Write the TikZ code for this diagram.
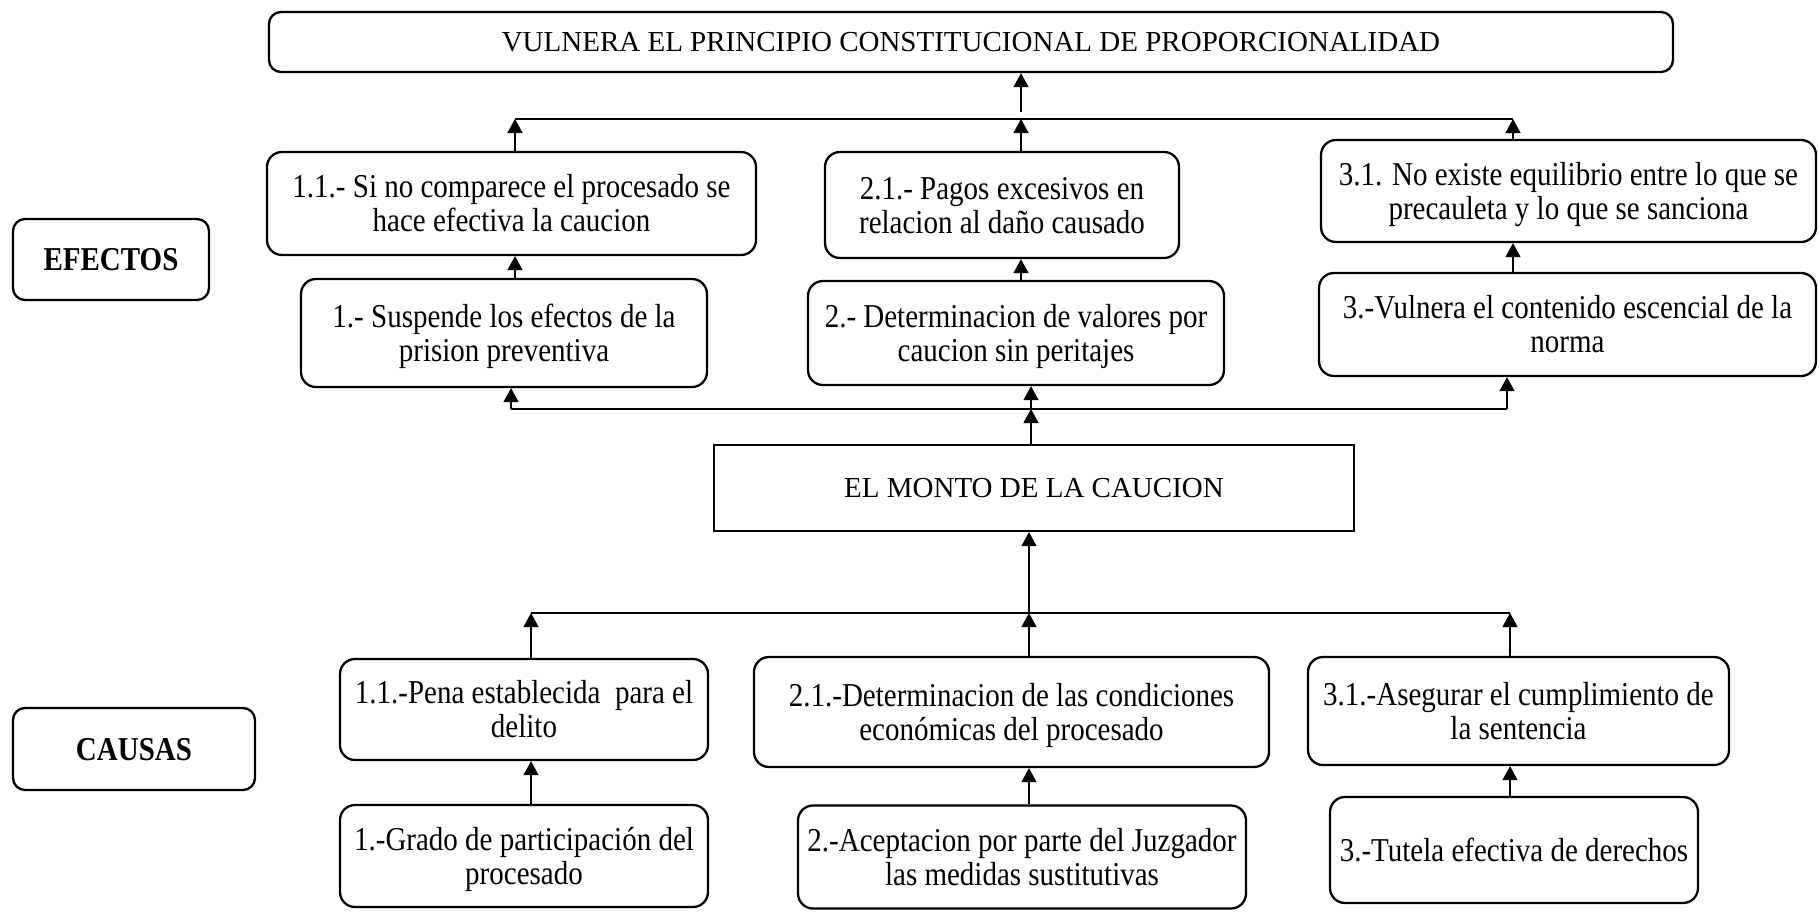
\documentclass[tikz,border=0pt]{standalone}
\usepackage{fontspec}
\usepackage{graphicx}
\setmainfont{Liberation Serif}
\usetikzlibrary{arrows.meta}
\newcommand\vs[1]{\raisebox{-4.5pt}[\height][\depth]{\scalebox{1}[1.15]{\begin{tabular}{@{}c@{}}#1\end{tabular}}}}
\begin{document}
\begin{tikzpicture}[x=1pt,y=-1pt,
  box/.style={draw, line width=2.3pt, rounded corners=15pt, align=center, inner sep=0pt,
    font=\fontsize{29}{29.5}\selectfont},
  sqbox/.style={draw, line width=2.3pt, align=center, inner sep=0pt,
    font=\fontsize{29}{33}\selectfont},
  arr/.style={-{Triangle[length=14pt,width=15pt]}, line width=1.2pt},
  bus/.style={line width=1.4pt}]
\useasboundingbox[fill=white] (0,0) rectangle (1819,911);
% effects
\node[box, rounded corners=12pt, minimum width=1404pt, minimum height=60pt, font=\fontsize{29}{33}\selectfont] (top) at (971,42) {VULNERA EL PRINCIPIO CONSTITUCIONAL DE PROPORCIONALIDAD};
\node[box, minimum width=489pt, minimum height=103pt] (e11) at (511.5,203.5) {\vs{1.1.- Si no comparece el procesado se\\hace efectiva la caucion}};
\node[box, minimum width=354pt, minimum height=106pt] (e21) at (1002,205) {\vs{2.1.- Pagos excesivos en\\relacion al daño causado}};
\node[box, minimum width=495pt, minimum height=102pt] (e31) at (1568.5,191) {\vs{3.1. No existe equilibrio entre lo que se\\precauleta y lo que se sanciona}};
\node[box, minimum width=406pt, minimum height=108pt] (e1) at (504,333) {\vs{1.- Suspende los efectos de la\\prision preventiva}};
\node[box, minimum width=416pt, minimum height=104pt] (e2) at (1016,333) {\vs{2.- Determinacion de valores por\\caucion sin peritajes}};
\node[box, minimum width=497pt, minimum height=103pt] (e3) at (1567.5,324.5) {\vs{3.-Vulnera el contenido escencial de la\\norma}};
\node[box, rounded corners=12pt, minimum width=196pt, minimum height=81pt, font=\fontsize{29}{29.5}\selectfont\bfseries] (efectos) at (111,259.5) {\vs{EFECTOS}};
\node[sqbox, minimum width=640pt, minimum height=86pt] (monto) at (1034,488) {EL MONTO DE LA CAUCION};
% causes
\node[box, minimum width=368pt, minimum height=101pt] (c11) at (524,709.5) {\vs{1.1.-Pena establecida\ \ para el\\delito}};
\node[box, minimum width=515pt, minimum height=110pt] (c21) at (1011.5,712) {\vs{2.1.-Determinacion de las condiciones\\económicas del procesado}};
\node[box, minimum width=421pt, minimum height=108pt] (c31) at (1518.5,711) {\vs{3.1.-Asegurar el cumplimiento de\\la sentencia}};
\node[box, minimum width=368pt, minimum height=102pt] (c1) at (524,856) {\vs{1.-Grado de participación del\\procesado}};
\node[box, minimum width=448pt, minimum height=103pt] (c2) at (1022,857) {\vs{2.-Aceptacion por parte del Juzgador\\las medidas sustitutivas}};
\node[box, minimum width=368pt, minimum height=106pt] (c3) at (1514,850) {\vs{3.-Tutela efectiva de derechos}};
\node[box, rounded corners=12pt, minimum width=242pt, minimum height=82pt, font=\fontsize{29}{29.5}\selectfont\bfseries] (causas) at (134,749) {\vs{CAUSAS}};
% effects connectors
\coordinate (tA) at (1021,112);
\coordinate (bT1) at (515,119);
\coordinate (bT2) at (1513,119);
\draw[arr] (tA) -- (top.south -| tA);
\draw[bus] (bT1) -- (bT2);
\draw[arr] (e11.north -| bT1) -- (bT1);
\draw[arr] (e21.north -| tA) -- (tA |- bT1);
\draw[arr] (e31.north -| bT2) -- (bT2);
\draw[arr] (e1.north -| bT1) -- (e11.south -| bT1);
\draw[arr] (e2.north -| tA) -- (e21.south -| tA);
\draw[arr] (e3.north -| bT2) -- (e31.south -| bT2);
\coordinate (bM1) at (511,409);
\coordinate (bM2) at (1507,409);
\coordinate (bMc) at (1031,409);
\draw[bus] (bM1) -- (bM2);
\draw[arr] (bM1) -- (e1.south -| bM1);
\draw[arr] (bMc) -- (e2.south -| bMc);
\draw[arr] (bM2) -- (e3.south -| bM2);
\draw[arr] (monto.north -| bMc) -- (bMc);
% causes connectors
\coordinate (bC1) at (531,613);
\coordinate (bC2) at (1510,613);
\coordinate (bCc) at (1029,613);
\draw[bus] (bC1) -- (bC2);
\draw[arr] (bCc) -- (monto.south -| bCc);
\draw[arr] (c11.north -| bC1) -- (bC1);
\draw[arr] (c21.north -| bCc) -- (bCc);
\draw[arr] (c31.north -| bC2) -- (bC2);
\draw[arr] (c1.north -| bC1) -- (c11.south -| bC1);
\draw[arr] (c2.north -| bCc) -- (c21.south -| bCc);
\draw[arr] (c3.north -| bC2) -- (c31.south -| bC2);
\end{tikzpicture}
\end{document}
